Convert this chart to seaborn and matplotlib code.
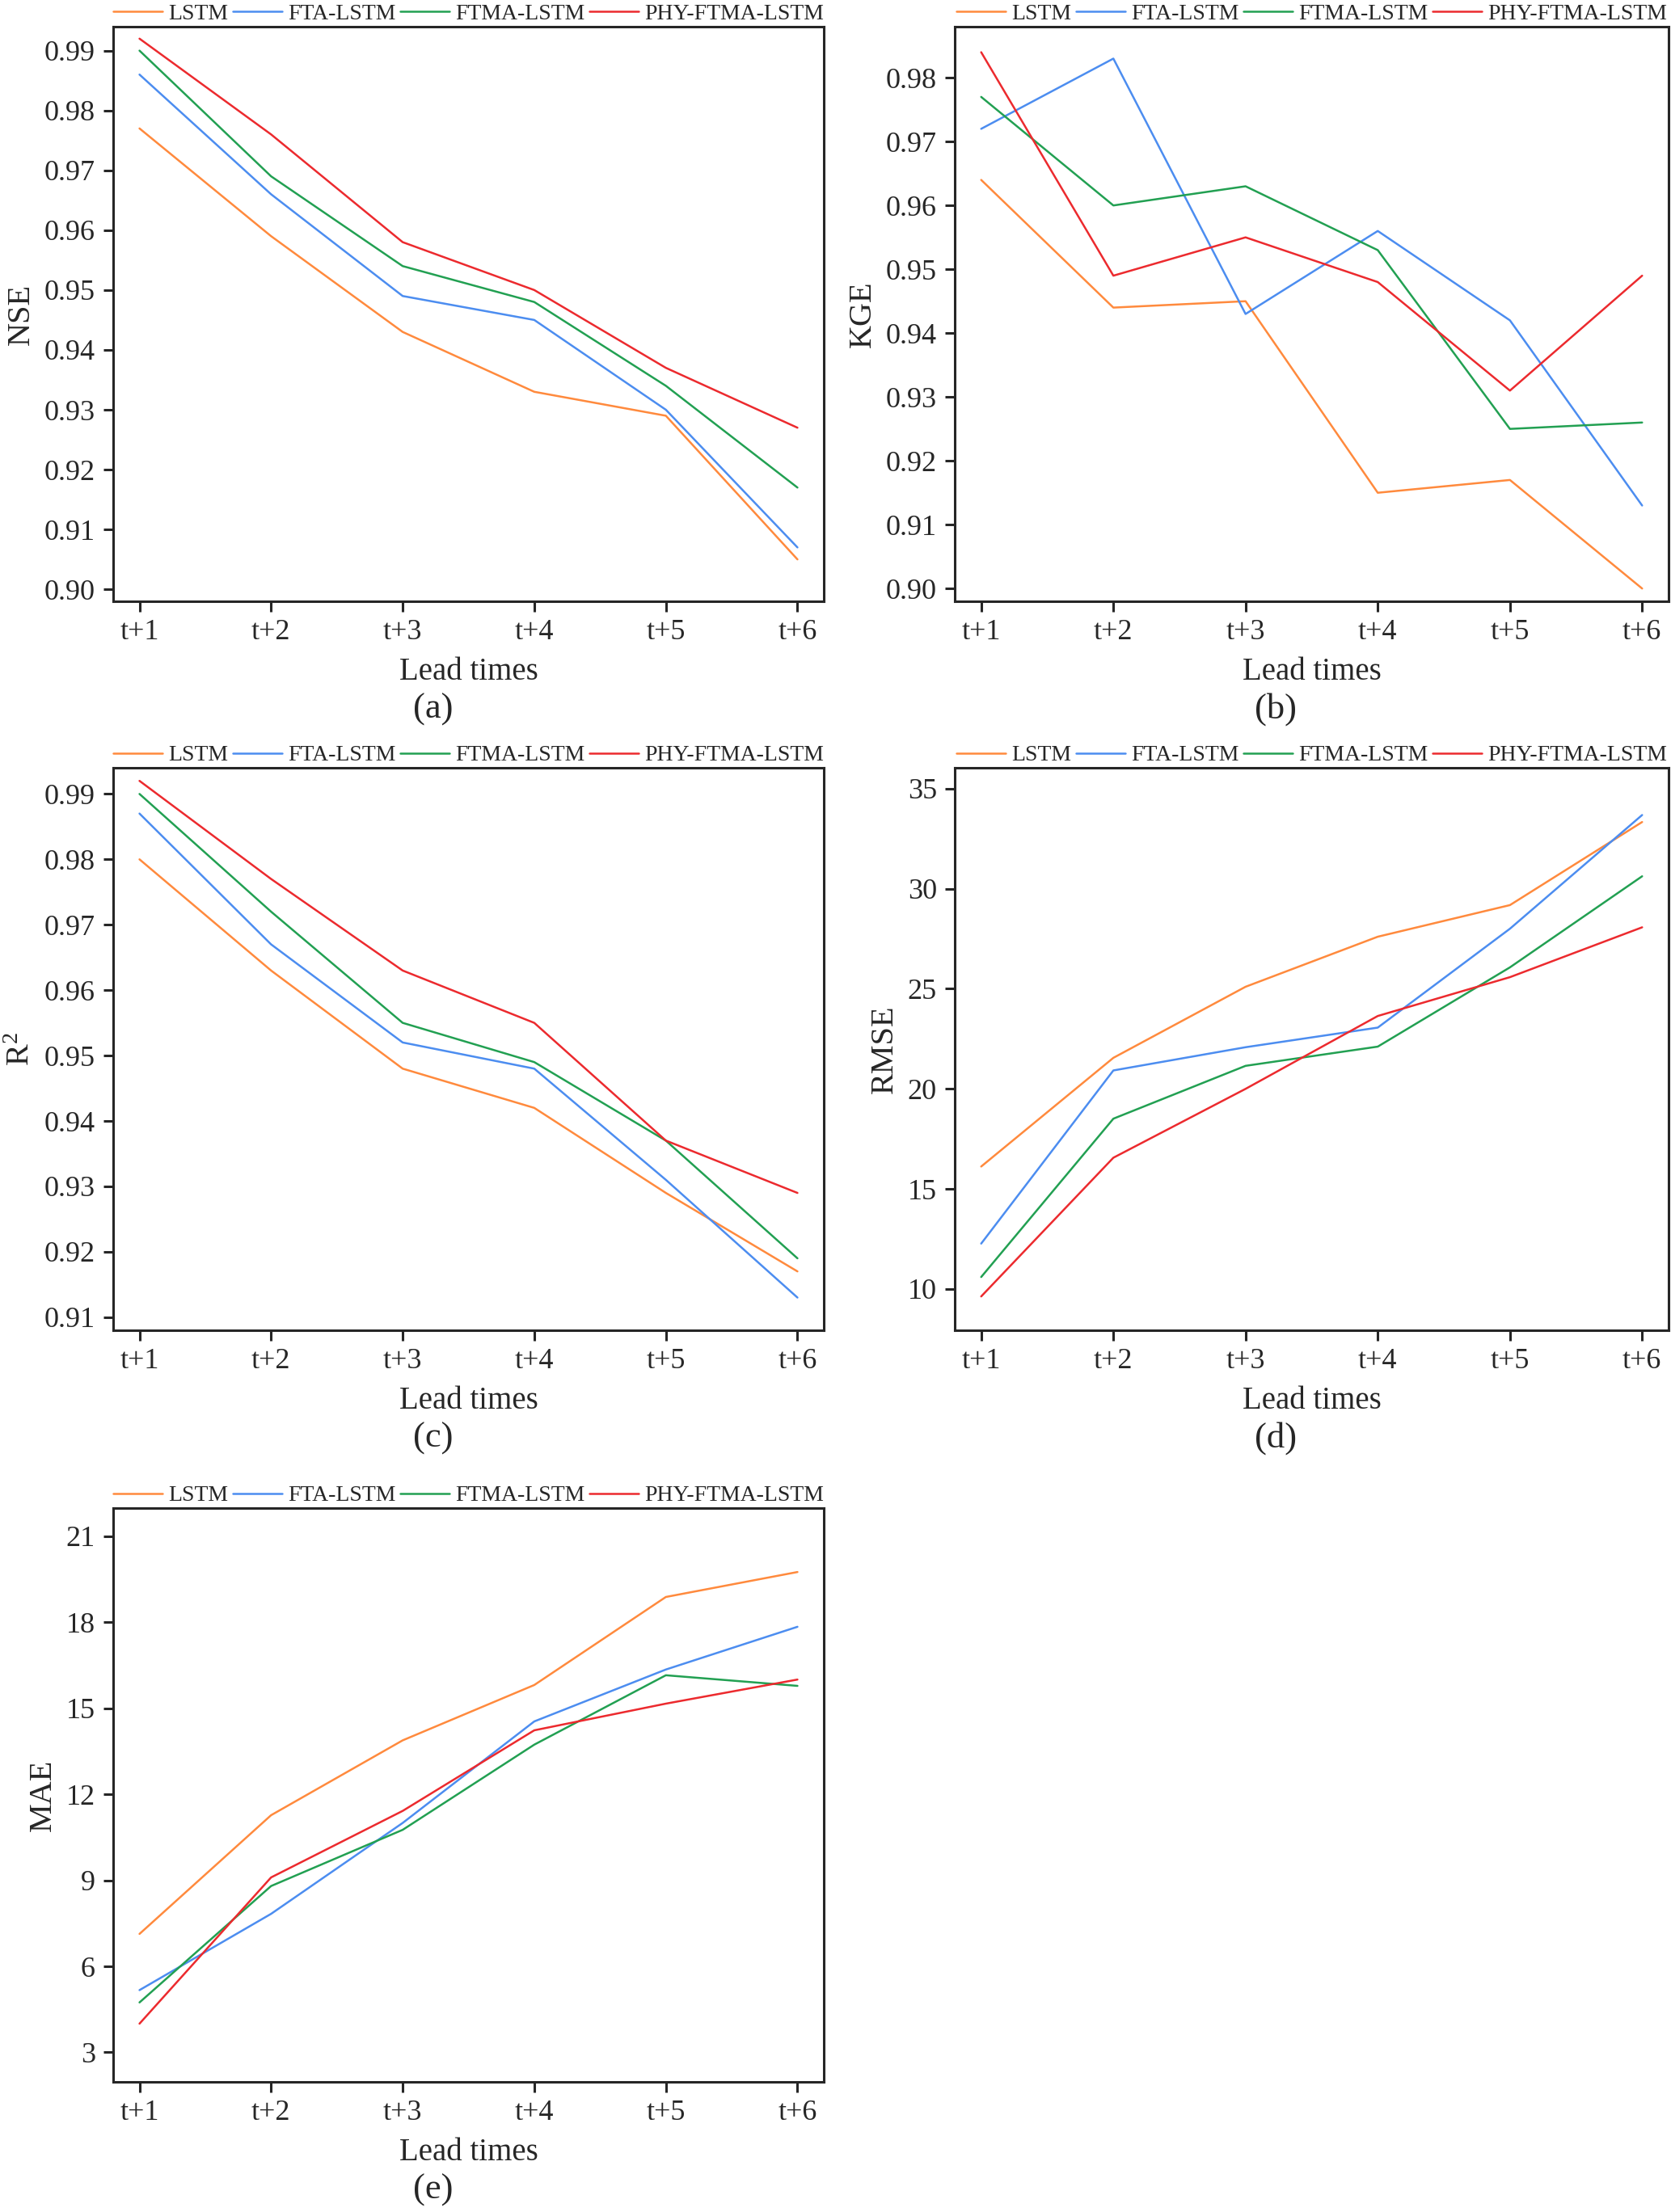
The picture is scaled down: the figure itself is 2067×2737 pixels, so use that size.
import matplotlib
matplotlib.use("Agg")
import matplotlib.pyplot as plt
import numpy as np
import pandas as pd
import seaborn as sns

lead_times = ["t+1", "t+2", "t+3", "t+4", "t+5", "t+6"]
models = ["LSTM", "FTA-LSTM", "FTMA-LSTM", "PHY-FTMA-LSTM"]
colors = ["#FF8A3D", "#4C8DF0", "#22A052", "#EC2A2E"]

nse = {
    "LSTM": [0.977, 0.959, 0.943, 0.933, 0.929, 0.905],
    "FTA-LSTM": [0.986, 0.966, 0.949, 0.945, 0.930, 0.907],
    "FTMA-LSTM": [0.990, 0.969, 0.954, 0.948, 0.934, 0.917],
    "PHY-FTMA-LSTM": [0.992, 0.976, 0.958, 0.950, 0.937, 0.927],
}
kge = {
    "LSTM": [0.964, 0.944, 0.945, 0.915, 0.917, 0.900],
    "FTA-LSTM": [0.972, 0.983, 0.943, 0.956, 0.942, 0.913],
    "FTMA-LSTM": [0.977, 0.960, 0.963, 0.953, 0.925, 0.926],
    "PHY-FTMA-LSTM": [0.984, 0.949, 0.955, 0.948, 0.931, 0.949],
}
r2 = {
    "LSTM": [0.980, 0.963, 0.948, 0.942, 0.929, 0.917],
    "FTA-LSTM": [0.987, 0.967, 0.952, 0.948, 0.931, 0.913],
    "FTMA-LSTM": [0.990, 0.972, 0.955, 0.949, 0.937, 0.919],
    "PHY-FTMA-LSTM": [0.992, 0.977, 0.963, 0.955, 0.937, 0.929],
}
rmse = {
    "LSTM": [16.12, 21.55, 25.10, 27.60, 29.18, 33.33],
    "FTA-LSTM": [12.27, 20.92, 22.08, 23.06, 28.00, 33.68],
    "FTMA-LSTM": [10.60, 18.51, 21.15, 22.11, 26.07, 30.62],
    "PHY-FTMA-LSTM": [9.63, 16.56, 20.00, 23.64, 25.58, 28.07],
}
mae = {
    "LSTM": [7.13, 11.27, 13.88, 15.81, 18.88, 19.75],
    "FTA-LSTM": [5.17, 7.83, 11.00, 14.54, 16.35, 17.84],
    "FTMA-LSTM": [4.74, 8.80, 10.76, 13.73, 16.15, 15.78],
    "PHY-FTMA-LSTM": [4.00, 9.10, 11.42, 14.23, 15.16, 16.00],
}

sns.set_style("ticks")
plt.rcParams['font.family'] = ['Liberation Serif', 'DejaVu Serif']
plt.rcParams['mathtext.fontset'] = 'custom'
plt.rcParams['mathtext.rm'] = 'Liberation Serif'
plt.rcParams['mathtext.it'] = 'Liberation Serif:italic'
plt.rcParams['axes.linewidth'] = 2.2

W, H = 2067, 2737
fig = plt.figure(figsize=(W / 100, H / 100), dpi=100)


def rect(l, r, t, b):
    return [l / W, 1 - b / H, (r - l) / W, (b - t) / H]


panels = [
    (nse, "NSE", "(a)", rect(140, 1019, 33, 744), (0.898, 0.994), np.arange(0.90, 0.995, 0.01), "%.2f"),
    (kge, "KGE", "(b)", rect(1181, 2064, 33, 744), (0.898, 0.988), np.arange(0.90, 0.985, 0.01), "%.2f"),
    (r2, r"$\mathrm{R}^2$", "(c)", rect(140, 1019, 950, 1646), (0.908, 0.994), np.arange(0.91, 0.995, 0.01), "%.2f"),
    (rmse, "RMSE", "(d)", rect(1181, 2064, 950, 1646), (7.94, 36.04), np.arange(10, 36, 5), "%d"),
    (mae, "MAE", "(e)", rect(140, 1019, 1866, 2576), (1.97, 21.98), np.arange(3, 22, 3), "%d"),
]

for data, ylabel, letter, pos, ylim, yticks, fmt in panels:
    ax = fig.add_axes(pos)
    df = pd.DataFrame(
        [(i, m, v) for m in models for i, v in enumerate(data[m])],
        columns=["step", "model", "value"],
    )
    sns.lineplot(data=df, x="step", y="value", hue="model", hue_order=models,
                 palette=dict(zip(models, colors)), linewidth=1.8, ax=ax)
    ax.set_xlim(-0.2, 5.2)
    ax.set_ylim(*ylim)
    ax.set_xticks(range(len(lead_times)))
    ax.set_xticklabels(lead_times)
    ax.set_yticks(yticks)
    ax.set_yticklabels([fmt % v for v in yticks])
    ax.tick_params(labelsize=26, length=9, width=2.2, direction='out', pad=7)
    ax.set_xlabel("Lead times", fontsize=28, labelpad=10)
    ax.set_ylabel(ylabel, fontsize=29, labelpad=7)
    for s in ax.spines.values():
        s.set_visible(True)
        s.set_linewidth(2.2)
    ax.legend(loc='lower center', bbox_to_anchor=(0.5, 1.0), ncol=4, frameon=False,
              fontsize=20, handlelength=2.2, handletextpad=0.25, columnspacing=0.2,
              borderaxespad=0.0, borderpad=0.1)
    ax.annotate(letter, xy=(0.45, 0), xycoords='axes fraction', xytext=(0, -96),
                textcoords='offset points', ha='center', va='center', fontsize=32)

fig.savefig("out.png", dpi=100)
